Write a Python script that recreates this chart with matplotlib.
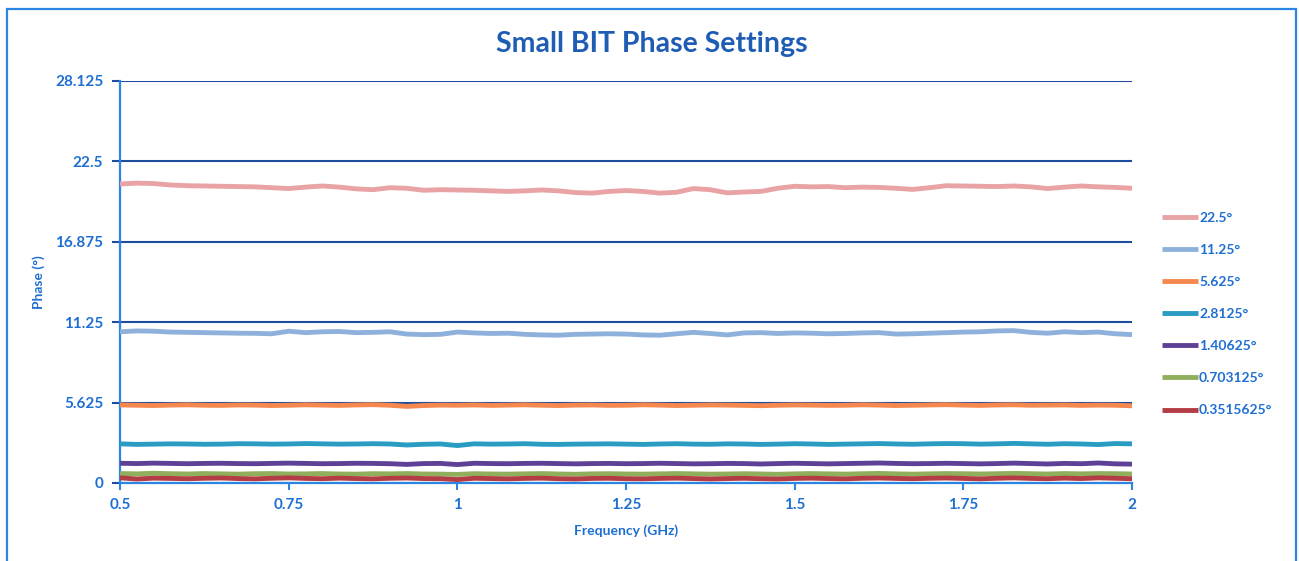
import numpy as np
import matplotlib
matplotlib.use("Agg")
import matplotlib.pyplot as plt
from matplotlib.patches import Rectangle

# ---------------- data ----------------
freq = np.round(np.arange(0.5, 2.0001, 0.025), 3)  # GHz, 61 points

s_22_5 = [20.92, 20.98, 20.95, 20.85, 20.80, 20.78, 20.76, 20.74, 20.72, 20.66,
          20.60, 20.70, 20.78, 20.70, 20.58, 20.52, 20.66, 20.62, 20.48, 20.52,
          20.50, 20.48, 20.44, 20.40, 20.44, 20.50, 20.44, 20.32, 20.28, 20.40,
          20.46, 20.40, 20.28, 20.34, 20.60, 20.52, 20.30, 20.36, 20.40, 20.62,
          20.76, 20.72, 20.74, 20.66, 20.70, 20.68, 20.62, 20.54, 20.66, 20.80,
          20.78, 20.76, 20.74, 20.78, 20.72, 20.60, 20.70, 20.78, 20.72, 20.68,
          20.62]
s_11_25 = [10.58, 10.64, 10.62, 10.56, 10.54, 10.52, 10.50, 10.48, 10.47, 10.44,
           10.62, 10.52, 10.58, 10.60, 10.52, 10.54, 10.58, 10.42, 10.38, 10.40,
           10.56, 10.50, 10.46, 10.48, 10.40, 10.36, 10.34, 10.40, 10.42, 10.44,
           10.42, 10.36, 10.34, 10.44, 10.54, 10.46, 10.36, 10.50, 10.52, 10.46,
           10.50, 10.48, 10.44, 10.46, 10.50, 10.52, 10.42, 10.44, 10.48, 10.52,
           10.56, 10.58, 10.64, 10.66, 10.54, 10.48, 10.58, 10.52, 10.56, 10.44,
           10.38]
s_5_625 = [5.46, 5.44, 5.42, 5.45, 5.47, 5.44, 5.43, 5.46, 5.45, 5.42,
           5.44, 5.47, 5.45, 5.43, 5.46, 5.48, 5.44, 5.36, 5.42, 5.45,
           5.44, 5.46, 5.43, 5.45, 5.47, 5.44, 5.42, 5.45, 5.46, 5.43,
           5.44, 5.47, 5.45, 5.42, 5.44, 5.46, 5.45, 5.43, 5.41, 5.44,
           5.46, 5.45, 5.43, 5.44, 5.47, 5.45, 5.42, 5.44, 5.46, 5.48,
           5.45, 5.43, 5.46, 5.47, 5.44, 5.45, 5.46, 5.43, 5.45, 5.44,
           5.40]
s_2_8125 = [2.74, 2.70, 2.72, 2.74, 2.73, 2.71, 2.72, 2.75, 2.74, 2.72,
            2.73, 2.76, 2.74, 2.72, 2.73, 2.75, 2.73, 2.66, 2.71, 2.73,
            2.62, 2.74, 2.72, 2.73, 2.75, 2.71, 2.70, 2.72, 2.73, 2.74,
            2.72, 2.70, 2.73, 2.75, 2.72, 2.71, 2.74, 2.73, 2.70, 2.72,
            2.75, 2.73, 2.70, 2.72, 2.74, 2.76, 2.73, 2.71, 2.74, 2.76,
            2.75, 2.72, 2.74, 2.77, 2.74, 2.71, 2.75, 2.73, 2.69, 2.76,
            2.74]
s_1_40625 = [1.38, 1.36, 1.39, 1.37, 1.35, 1.37, 1.38, 1.36, 1.35, 1.37,
             1.39, 1.37, 1.35, 1.36, 1.38, 1.37, 1.35, 1.30, 1.36, 1.37,
             1.29, 1.38, 1.36, 1.35, 1.37, 1.38, 1.36, 1.34, 1.36, 1.37,
             1.35, 1.36, 1.38, 1.36, 1.34, 1.35, 1.37, 1.36, 1.33, 1.36,
             1.38, 1.36, 1.34, 1.36, 1.38, 1.40, 1.37, 1.35, 1.36, 1.38,
             1.36, 1.34, 1.36, 1.39, 1.36, 1.33, 1.37, 1.35, 1.40, 1.34,
             1.32]
s_0_703125 = [0.66, 0.64, 0.68, 0.65, 0.63, 0.66, 0.64, 0.62, 0.65, 0.66,
              0.63, 0.64, 0.66, 0.63, 0.62, 0.65, 0.64, 0.66, 0.63, 0.62,
              0.60, 0.65, 0.63, 0.62, 0.64, 0.66, 0.63, 0.61, 0.64, 0.65,
              0.63, 0.62, 0.64, 0.66, 0.64, 0.62, 0.63, 0.65, 0.63, 0.61,
              0.64, 0.66, 0.64, 0.62, 0.65, 0.67, 0.64, 0.62, 0.64, 0.66,
              0.65, 0.63, 0.65, 0.67, 0.65, 0.63, 0.66, 0.64, 0.66, 0.65,
              0.63]
s_0_3515625 = [0.36, 0.28, 0.34, 0.32, 0.30, 0.33, 0.35, 0.31, 0.29, 0.33,
               0.36, 0.32, 0.30, 0.34, 0.31, 0.29, 0.33, 0.35, 0.31, 0.30,
               0.24, 0.33, 0.31, 0.29, 0.32, 0.34, 0.30, 0.28, 0.32, 0.33,
               0.30, 0.29, 0.32, 0.34, 0.31, 0.28, 0.31, 0.33, 0.30, 0.28,
               0.32, 0.34, 0.31, 0.29, 0.33, 0.35, 0.32, 0.30, 0.33, 0.35,
               0.32, 0.29, 0.33, 0.36, 0.32, 0.30, 0.34, 0.31, 0.36, 0.33,
               0.30]

series_labels = ["22.5°", "11.25°", "5.625°", "2.8125°", "1.40625°",
                 "0.703125°", "0.3515625°"]
series_values = [s_22_5, s_11_25, s_5_625, s_2_8125, s_1_40625,
                 s_0_703125, s_0_3515625]
series_colors = ["#E9A3A5", "#8EB1DB", "#F5884E", "#2A9BC2", "#5E4196",
                 "#8FAF5C", "#B43C44"]

y_ticks = [0, 5.625, 11.25, 16.875, 22.5, 28.125]
y_tick_labels = ["0", "5.625", "11.25", "16.875", "22.5", "28.125"]
x_ticks = [0.5, 0.75, 1, 1.25, 1.5, 1.75, 2]
x_tick_labels = ["0.5", "0.75", "1", "1.25", "1.5", "1.75", "2"]

# ---------------- style ----------------
plt.rcParams['font.family'] = ['Lato', 'DejaVu Sans']
text_blue = "#1E6FD2"
title_blue = "#1F5CB4"
grid_navy = "#1D4D9C"
axis_blue = "#2B86E3"

W, H = 1299, 561
fig = plt.figure(figsize=(W / 100, H / 100), dpi=100)
fig.patch.set_facecolor("white")

L, R, T, B = 120, 1132, 81, 483
ax = fig.add_axes([L / W, 1 - B / H, (R - L) / W, (B - T) / H])

for vals, lab, col in zip(series_values, series_labels, series_colors):
    ax.plot(freq, vals, color=col, lw=3.5, label=lab, solid_capstyle='butt',
            zorder=3)

ax.set_xlim(0.5, 2)
ax.set_ylim(0, 28.125)
ax.set_yticks(y_ticks)
ax.set_yticklabels(y_tick_labels)
ax.set_xticks(x_ticks)
ax.set_xticklabels(x_tick_labels)

ax.grid(axis='y', color=grid_navy, lw=1.5, zorder=1)
ax.set_axisbelow(True)
for side in ['top', 'right']:
    ax.spines[side].set_visible(False)
for side in ['left', 'bottom']:
    ax.spines[side].set_color(axis_blue)
    ax.spines[side].set_linewidth(1.6)

ax.tick_params(axis='y', direction='out', length=6, width=1.5, color=grid_navy,
               labelcolor=text_blue, labelsize=11, pad=6)
ax.tick_params(axis='x', direction='out', length=5, width=1.5, color=axis_blue,
               labelcolor=text_blue, labelsize=11, pad=6)
for lbl in ax.get_xticklabels() + ax.get_yticklabels():
    lbl.set_fontweight('bold')

ax.set_xlabel("Frequency (GHz)", color=text_blue, fontsize=10, fontweight='bold',
              labelpad=9)
ax.set_ylabel("Phase (°)", color=text_blue, fontsize=10, fontweight='bold',
              labelpad=7)

fig.text(652 / W, 1 - 44 / H, "Small BIT Phase Settings", ha='center',
         va='center', color=title_blue, fontsize=20.5, fontweight='bold')

leg = ax.legend(loc='upper left', bbox_to_anchor=(1156 / W, 1 - 206 / H),
                bbox_transform=fig.transFigure, frameon=False,
                handlelength=2.6, handletextpad=0.1, labelspacing=1.45,
                fontsize=10, borderaxespad=0)
for t in leg.get_texts():
    t.set_color(text_blue)
    t.set_fontweight('bold')

fig.add_artist(Rectangle((7 / W, -0.02), (1296 - 7) / W, 1 - 9 / H + 0.02,
                         transform=fig.transFigure, fill=False,
                         edgecolor=axis_blue, lw=1.6))

fig.savefig("out.png", dpi=100, facecolor="white")
